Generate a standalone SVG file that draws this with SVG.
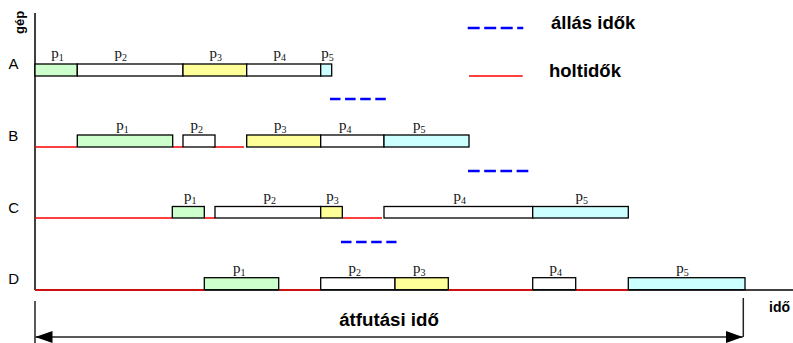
<svg xmlns="http://www.w3.org/2000/svg" width="793" height="343" viewBox="0 0 793 343">
<defs>
<style>
.bar{stroke:#000;stroke-width:1.3}
.g{fill:#ccffcc}.w{fill:#fff}.y{fill:#ffff99}.c{fill:#ccffff}
.red{stroke:#ff0000;stroke-width:1.5;fill:none}
.blue{stroke:#0000ff;stroke-width:2.5;fill:none}
.axis{stroke:#404040;stroke-width:2;fill:none}
.pl{font-family:"Liberation Serif","Times New Roman",serif;font-size:15px;fill:#111}
.sub{font-size:10px}
.row{font-family:"Liberation Sans",Arial,sans-serif;font-size:15px;fill:#000}
.bold{font-family:"Liberation Sans",Arial,sans-serif;font-weight:bold;fill:#000}
</style>
<marker id="ah" viewBox="0 0 17 12" refX="17" refY="6" markerWidth="17" markerHeight="12" markerUnits="userSpaceOnUse" orient="auto-start-reverse">
<path d="M0,0 L17,6 L0,12 Z" fill="#000"/>
</marker>
</defs>
<rect width="793" height="343" fill="#fff"/>

<g id="axes">
<line class="axis" x1="35" y1="13" x2="35" y2="290"/>
<line class="axis" x1="35" y1="290" x2="793" y2="290" stroke="#222"/>
<text class="bold" font-size="13" transform="translate(23.5,34) rotate(-90)">gép</text>
<text class="bold" font-size="14" x="769" y="312">idő</text>
</g>

<g id="connectors">
<polyline class="red" points="35,147 77,147"/>
<polyline class="red" points="172.7,147 183,147"/>
<polyline class="red" points="213,147 244,147"/>
<polyline class="red" points="35,218 172.3,218"/>
<polyline class="red" points="204.3,218 215,218"/>
<polyline class="red" points="342.3,218 382,218"/>
<polyline class="red" points="35,290 204.3,290"/>
<polyline class="red" points="278.7,290 320.7,290"/>
<polyline class="red" points="448.3,290 532.7,290"/>
<polyline class="red" points="575.7,290 628.3,290"/>
<line class="blue" x1="330" y1="99" x2="386" y2="99" stroke-dasharray="10.5 4.6"/>
<line class="blue" x1="468" y1="171" x2="528.3" y2="171" stroke-dasharray="11.7 4.5"/>
<line class="blue" x1="341" y1="242" x2="396.5" y2="242" stroke-dasharray="10.5 4.6"/>
</g>

<g id="legend">
<line class="blue" x1="467.7" y1="28" x2="523.3" y2="28" stroke-dasharray="12 4.5"/>
<text class="bold" font-size="18.5" x="551" y="29">állás idők</text>
<line class="red" x1="469" y1="76" x2="522.7" y2="76"/>
<text class="bold" font-size="18.5" x="549" y="77">holtidők</text>
</g>

<g id="rowA">
<text class="row" x="8.5" y="69">A</text>
<rect class="bar g" x="35" y="64" width="42.3" height="12"/>
<rect class="bar w" x="77.3" y="64" width="105.7" height="12"/>
<rect class="bar y" x="183" y="64" width="63.7" height="12"/>
<rect class="bar w" x="246.7" y="64" width="74" height="12"/>
<rect class="bar c" x="320.7" y="64" width="11" height="12"/>
<text class="pl" x="51.3" y="58">p<tspan class="sub" dy="3">1</tspan></text>
<text class="pl" x="114.6" y="58">p<tspan class="sub" dy="3">2</tspan></text>
<text class="pl" x="209.6" y="58">p<tspan class="sub" dy="3">3</tspan></text>
<text class="pl" x="273.6" y="58">p<tspan class="sub" dy="3">4</tspan></text>
<text class="pl" x="321.3" y="58">p<tspan class="sub" dy="3">5</tspan></text>
</g>

<g id="rowB">
<text class="row" x="8.3" y="141">B</text>
<rect class="bar g" x="77.3" y="135" width="95.4" height="12"/>
<rect class="bar w" x="183" y="135" width="32" height="12"/>
<rect class="bar y" x="246.7" y="135" width="74" height="12"/>
<rect class="bar w" x="320.7" y="135" width="63.3" height="12"/>
<rect class="bar c" x="384" y="135" width="85" height="12"/>
<text class="pl" x="116.3" y="129.5">p<tspan class="sub" dy="3">1</tspan></text>
<text class="pl" x="190.6" y="129.5">p<tspan class="sub" dy="3">2</tspan></text>
<text class="pl" x="273.9" y="129.5">p<tspan class="sub" dy="3">3</tspan></text>
<text class="pl" x="338.9" y="129.5">p<tspan class="sub" dy="3">4</tspan></text>
<text class="pl" x="412.9" y="129.5">p<tspan class="sub" dy="3">5</tspan></text>
</g>

<g id="rowC">
<text class="row" x="8.3" y="213">C</text>
<rect class="bar g" x="172.3" y="206.5" width="32" height="11.5"/>
<rect class="bar w" x="215" y="206.5" width="105.7" height="11.5"/>
<rect class="bar y" x="320.7" y="206.5" width="21.6" height="11.5"/>
<rect class="bar w" x="384" y="206.5" width="148.7" height="11.5"/>
<rect class="bar c" x="532.7" y="206.5" width="95.6" height="11.5"/>
<text class="pl" x="183.9" y="200.5">p<tspan class="sub" dy="3">1</tspan></text>
<text class="pl" x="263.6" y="200.5">p<tspan class="sub" dy="3">2</tspan></text>
<text class="pl" x="326.3" y="200.5">p<tspan class="sub" dy="3">3</tspan></text>
<text class="pl" x="453.6" y="200.5">p<tspan class="sub" dy="3">4</tspan></text>
<text class="pl" x="575.6" y="200.5">p<tspan class="sub" dy="3">5</tspan></text>
</g>

<g id="rowD">
<text class="row" x="8.3" y="283.5">D</text>
<rect class="bar g" x="204.3" y="277.7" width="74.4" height="12"/>
<rect class="bar w" x="320.7" y="277.7" width="74.3" height="12"/>
<rect class="bar y" x="395" y="277.7" width="53.3" height="12"/>
<rect class="bar w" x="532.7" y="277.7" width="43" height="12"/>
<rect class="bar c" x="628.3" y="277.7" width="116.7" height="12"/>
<text class="pl" x="232.9" y="272.5">p<tspan class="sub" dy="3">1</tspan></text>
<text class="pl" x="348.6" y="272.5">p<tspan class="sub" dy="3">2</tspan></text>
<text class="pl" x="412.9" y="272.5">p<tspan class="sub" dy="3">3</tspan></text>
<text class="pl" x="549.6" y="272.5">p<tspan class="sub" dy="3">4</tspan></text>
<text class="pl" x="676.3" y="272.5">p<tspan class="sub" dy="3">5</tspan></text>
</g>

<g id="leadtime">
<line x1="35" y1="301" x2="35" y2="343" stroke="#222" stroke-width="1.5"/>
<line x1="743.3" y1="298" x2="743.3" y2="337" stroke="#222" stroke-width="1.5"/>
<line x1="35.5" y1="337" x2="742.8" y2="337" stroke="#222" stroke-width="1.5" marker-start="url(#ah)" marker-end="url(#ah)"/>
<text class="bold" font-size="18.7" x="389" y="326" text-anchor="middle">átfutási idő</text>
</g>
</svg>
